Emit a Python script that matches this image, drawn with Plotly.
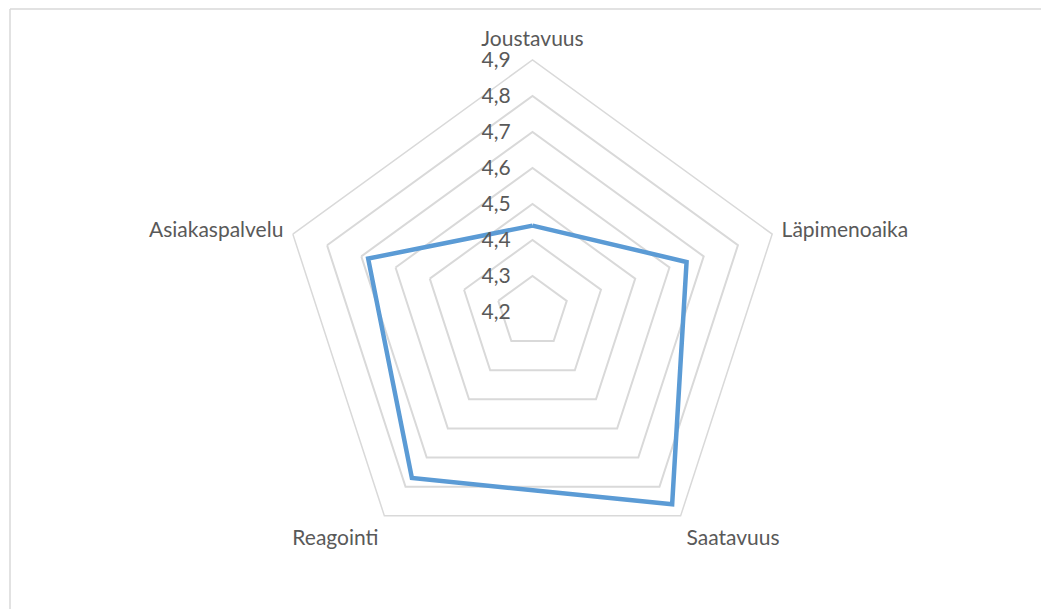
import plotly.graph_objects as go

# categories clockwise from the top
categories = ['Joustavuus', 'Läpimenoaika', 'Saatavuus', 'Reagointi', 'Asiakaspalvelu']
scores = [4.44, 4.65, 4.86, 4.77, 4.68]
radial_ticks = [4.2, 4.3, 4.4, 4.5, 4.6, 4.7, 4.8, 4.9]

# the page body keeps its 8px default margin, so size and place the figure around that
OFF = 8
W, H = 1049 - OFF, 609 - OFF
cx, cy, R = 532.5 - OFF, 312 - OFF, 252

fig = go.Figure()

fig.add_trace(go.Scatterpolar(
    r=scores + scores[:1],
    theta=categories + categories[:1],
    mode='lines',
    line=dict(color='#5B9BD5', width=4.5),
    hoverinfo='skip',
    showlegend=False
))

fig.update_layout(
    width=W, height=H,
    margin=dict(l=0, r=0, t=0, b=0),
    paper_bgcolor='white',
    separators=', ',
    font=dict(family='Lato, Open Sans, sans-serif', size=21, color='#595959'),
    polar=dict(
        domain=dict(x=[(cx - R) / W, (cx + R) / W],
                    y=[1 - (cy + R) / H, 1 - (cy - R) / H]),
        bgcolor='white',
        gridshape='linear',
        radialaxis=dict(
            range=[4.2, 4.9],
            tickvals=radial_ticks,
            tickformat='.1f',
            angle=90,
            tickangle=90,
            side='counterclockwise',
            showline=False,
            ticks='outside', ticklen=14, tickcolor='rgba(0,0,0,0)',
            gridcolor='#d9d9d9', gridwidth=1.5,
            tickfont=dict(size=21, color='#595959')
        ),
        angularaxis=dict(
            rotation=90,
            direction='clockwise',
            showgrid=False,
            showline=True,
            linecolor='#d9d9d9', linewidth=1.5,
            ticks='outside', ticklen=5, tickcolor='rgba(0,0,0,0)',
            tickfont=dict(size=21, color='#595959')
        )
    ),
    shapes=[
        dict(type='line', xref='paper', yref='paper',
             x0=(10 - OFF) / W, y0=1 - (9 - OFF) / H, x1=1, y1=1 - (9 - OFF) / H,
             line=dict(color='#d9d9d9', width=1.5)),
        dict(type='line', xref='paper', yref='paper',
             x0=(10 - OFF) / W, y0=1 - (9 - OFF) / H, x1=(10 - OFF) / W, y1=0,
             line=dict(color='#d9d9d9', width=1.5)),
    ]
)

fig.write_html("out.html")
